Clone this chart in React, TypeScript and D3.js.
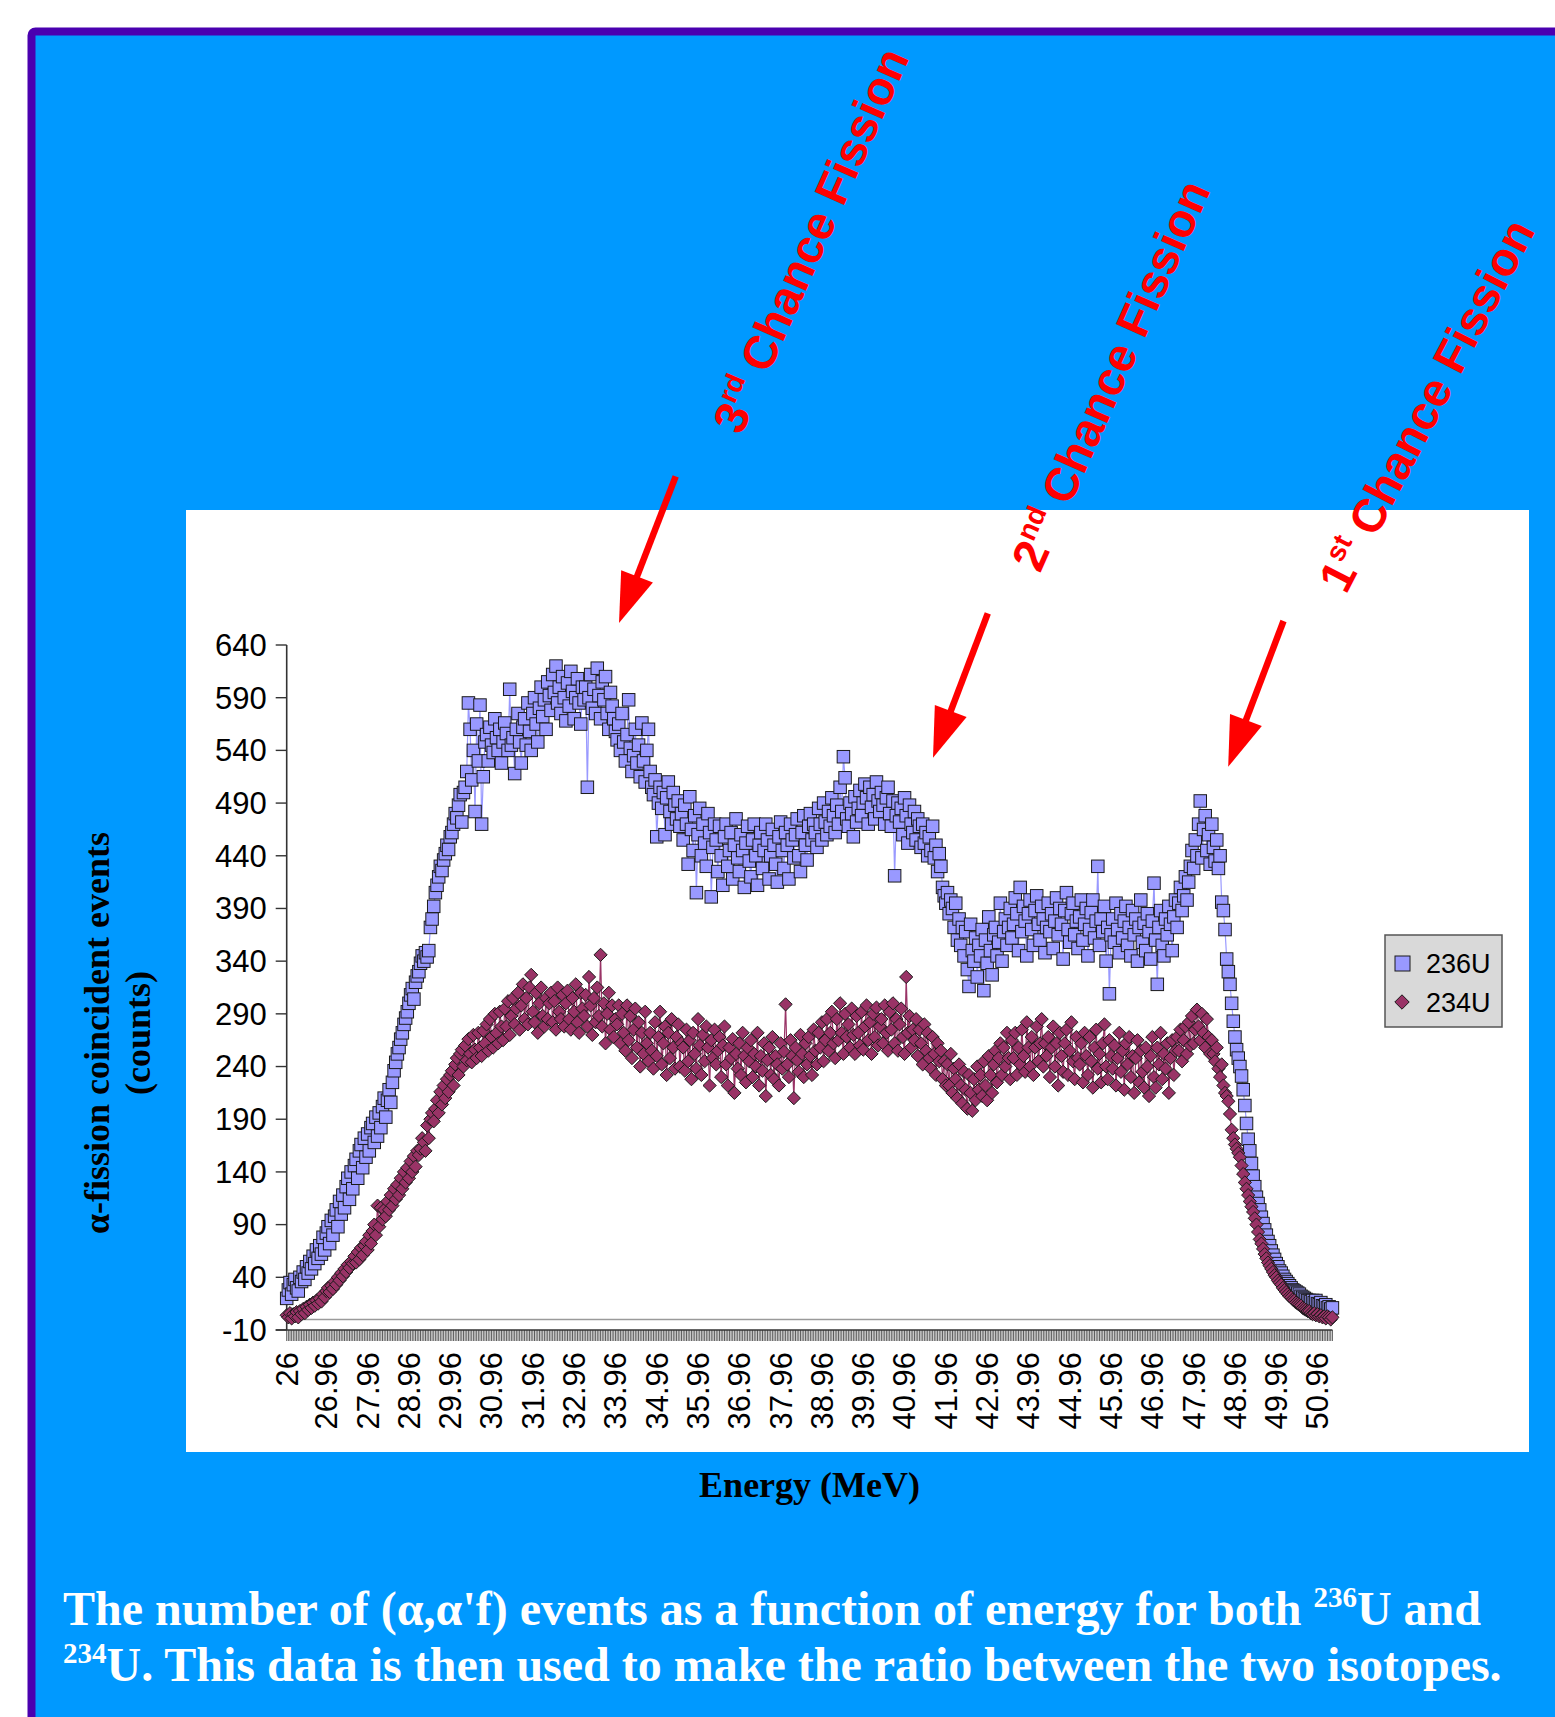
import React from "react";
import * as d3 from "d3";

// energy bins: 26.00 MeV in steps of 0.04 MeV
const ENERGY_START = 26;
const ENERGY_STEP = 0.04;

const X_TICK_LABELS = [
  "26", "26.96", "27.96", "28.96", "29.96", "30.96", "31.96", "32.96", "33.96",
  "34.96", "35.96", "36.96", "37.96", "38.96", "39.96", "40.96", "41.96", "42.96",
  "43.96", "44.96", "45.96", "46.96", "47.96", "48.96", "49.96", "50.96",
];
const Y_TICKS = [-10, 40, 90, 140, 190, 240, 290, 340, 390, 440, 490, 540, 590, 640];
const SERIES_NAMES = ["236U", "234U"];

// counts per bin
const U236 = [
  20, 28, 35, 24, 33, 38, 30, 27, 40, 36, 45, 38, 50, 44, 55, 48, 60, 53, 66, 58,
  70, 62, 78, 66, 82, 88, 72, 94, 80, 98, 104, 88, 112, 100, 118, 106, 126, 134, 114, 140,
  124, 146, 152, 134, 160, 166, 144, 172, 154, 176, 160, 182, 186, 168, 192, 174, 196, 182, 202, 210,
  192, 208, 218, 206, 225, 236, 244, 252, 258, 266, 272, 280, 286, 292, 300, 308, 314, 304, 320, 326,
  330, 338, 345, 340, 348, 344, 350, 372, 380, 392, 405, 412, 420, 430, 426, 436, 442, 450, 446, 458,
  462, 470, 480, 476, 488, 498, 472, 500, 505, 520, 585, 560, 512, 540, 482, 565, 530, 583, 470, 515,
  548, 555, 530, 562, 545, 538, 570, 552, 540, 560, 528, 548, 566, 556, 540, 598, 545, 552, 518, 560,
  575, 548, 528, 562, 570, 545, 585, 558, 540, 575, 590, 565, 548, 580, 600, 572, 588, 560, 605, 592,
  578, 612, 595, 620, 585, 600, 575, 610, 590, 568, 604, 582, 615, 596, 570, 590, 608, 585, 565, 600,
  588, 600, 505, 590, 612, 580, 598, 575, 618, 592, 570, 605, 588, 610, 575, 560, 595, 582, 570, 558,
  550, 565, 540, 575, 548, 530, 555, 588, 542, 520, 535, 560, 528, 545, 515, 566, 530, 510, 540, 560,
  520, 505, 498, 512, 458, 490, 505, 485, 500, 460, 495, 510, 482, 470, 500, 488, 475, 492, 468, 480,
  455, 488, 470, 432, 496, 465, 445, 478, 405, 460, 485, 440, 470, 452, 430, 480, 462, 401, 448, 470,
  455, 425, 468, 440, 412, 458, 470, 430, 445, 462, 418, 450, 475, 438, 425, 460, 445, 410, 452, 468,
  435, 420, 455, 470, 440, 412, 450, 462, 428, 445, 470, 455, 418, 440, 465, 450, 432, 415, 458, 472,
  445, 428, 462, 450, 418, 470, 455, 438, 460, 475, 440, 425, 462, 478, 450, 436, 468, 480, 455, 470,
  462, 448, 485, 470, 455, 490, 472, 460, 482, 468, 495, 478, 462, 488, 470, 505, 482, 534, 514, 475,
  468, 490, 480, 458, 496, 472, 485, 502, 478, 490, 508, 495, 470, 505, 486, 498, 475, 510, 492, 482,
  500, 488, 470, 495, 505, 480, 468, 492, 421, 478, 490, 472, 485, 460, 495, 478, 452, 488, 470, 462,
  482, 455, 475, 468, 448, 470, 452, 462, 440, 458, 445, 468, 438, 450, 425, 442, 430, 410, 402, 395,
  405, 385, 398, 390, 372, 395, 360, 380, 355, 372, 345, 368, 332, 316, 375, 350, 340, 362, 325, 355,
  345, 370, 312, 360, 338, 382, 350, 327, 365, 372, 345, 358, 395, 340, 368, 380, 355, 372, 390, 362,
  375, 400, 385, 350, 410, 368, 392, 378, 345, 385, 398, 370, 355, 388, 402, 375, 360, 392, 380, 348,
  372, 395, 368, 385, 352, 378, 400, 365, 390, 375, 342, 388, 405, 370, 358, 385, 395, 365, 378, 352,
  382, 398, 360, 375, 390, 345, 370, 386, 398, 362, 378, 430, 355, 380, 368, 392, 340, 372, 309, 365,
  380, 358, 395, 370, 348, 385, 362, 378, 392, 355, 372, 345, 388, 365, 380, 340, 372, 398, 358, 376,
  350, 385, 368, 342, 378, 414, 360, 318, 372, 388, 355, 345, 380, 365, 392, 375, 350, 382, 398, 372,
  395, 410, 388, 402, 420, 398, 415, 430, 445, 428, 455, 440, 470, 492, 438, 465, 478, 445, 460, 432,
  470, 448, 435, 455, 428, 440, 396, 388, 370, 342, 330, 318, 300, 283, 268, 256, 248, 240, 231, 218,
  203, 186, 171, 160, 148, 136, 126, 116, 110, 104, 97, 91, 85, 80, 74, 70, 65, 61, 57, 53,
  50, 46, 44, 41, 38, 36, 34, 32, 30, 28, 27, 26, 25, 24, 22, 21, 20, 19, 18, 18,
  17, 18, 16, 18, 15, 14, 16, 13, 12, 14, 11, 12, 10, 11,
];

const U234 = [
  4, 2, 6, 1, 5, 3, 7, 2, 8, 5, 10, 6, 12, 9, 14, 11, 16, 13, 18, 15,
  20, 17, 24, 21, 27, 30, 26, 32, 29, 36, 33, 40, 37, 44, 41, 48, 45, 52, 49, 55,
  53, 60, 54, 64, 57, 68, 61, 70, 74, 66, 80, 72, 84, 90, 80, 108, 88, 106, 95, 104,
  98, 112, 104, 118, 108, 124, 114, 128, 118, 134, 124, 140, 130, 144, 134, 150, 140, 155, 145, 160,
  156, 162, 172, 168, 160, 184, 172, 190, 196, 188, 200, 208, 196, 216, 204, 222, 210, 228, 216, 232,
  236, 222, 242, 248, 232, 252, 256, 240, 260, 246, 266, 252, 244, 270, 256, 248, 272, 258, 250, 274,
  262, 280, 255, 285, 268, 258, 290, 272, 262, 292, 278, 265, 295, 278, 302, 270, 288, 305, 280, 295,
  310, 275, 298, 318, 285, 305, 280, 315, 327, 292, 282, 310, 272, 300, 315, 288, 278, 305, 285, 300,
  310, 282, 302, 275, 315, 292, 285, 308, 278, 300, 312, 285, 275, 305, 292, 318, 282, 272, 310, 295,
  288, 308, 278, 325, 298, 270, 305, 282, 315, 288, 346, 278, 300, 262, 290, 310, 275, 298, 268, 285,
  280, 298, 262, 290, 272, 255, 298, 265, 288, 248, 275, 295, 258, 282, 240, 272, 252, 292, 262, 245,
  272, 255, 238, 282, 250, 268, 292, 242, 262, 278, 232, 272, 248, 285, 258, 238, 268, 280, 240, 262,
  258, 236, 275, 245, 265, 228, 272, 252, 238, 285, 260, 232, 270, 245, 278, 258, 222, 265, 248, 275,
  242, 255, 268, 230, 260, 278, 242, 222, 258, 248, 266, 215, 252, 238, 262, 232, 272, 250, 225, 258,
  245, 265, 230, 252, 240, 272, 222, 250, 236, 262, 212, 246, 258, 232, 268, 228, 250, 242, 222, 262,
  238, 254, 299, 242, 230, 265, 250, 210, 258, 246, 235, 270, 252, 230, 262, 242, 268, 250, 232, 275,
  255, 242, 272, 258, 282, 245, 265, 285, 255, 272, 292, 262, 248, 285, 265, 300, 272, 252, 290, 268,
  280, 258, 295, 270, 252, 288, 272, 260, 292, 256, 278, 298, 265, 282, 252, 290, 268, 296, 260, 278,
  285, 262, 298, 272, 255, 292, 275, 300, 262, 285, 255, 280, 295, 268, 252, 325, 272, 288, 258, 275,
  265, 285, 250, 275, 262, 242, 280, 255, 272, 248, 238, 268, 252, 232, 262, 245, 255, 228, 245, 222,
  242, 222, 252, 215, 238, 228, 210, 242, 222, 205, 235, 218, 200, 232, 215, 198, 228, 208, 240, 218,
  232, 212, 245, 222, 208, 250, 232, 215, 242, 255, 225, 248, 262, 232, 258, 240, 272, 248, 228, 265,
  248, 272, 232, 258, 242, 275, 250, 235, 282, 258, 240, 268, 232, 258, 278, 245, 262, 285, 240, 262,
  250, 268, 230, 258, 278, 240, 262, 222, 272, 250, 235, 262, 275, 232, 255, 282, 245, 228, 268, 248,
  242, 262, 225, 272, 250, 232, 268, 245, 220, 258, 275, 238, 252, 225, 262, 280, 240, 228, 265, 250,
  238, 260, 222, 248, 272, 235, 255, 218, 262, 242, 268, 230, 250, 215, 248, 265, 225, 255, 235, 220,
  258, 240, 212, 250, 268, 230, 220, 258, 242, 272, 228, 252, 238, 262, 215, 248, 265, 232, 255, 268,
  255, 275, 245, 265, 278, 252, 282, 260, 288, 262, 275, 294, 278, 265, 290, 272, 258, 285, 268, 252,
  265, 252, 245, 258, 238, 230, 242, 222, 215, 212, 207, 195, 180, 172, 166, 162, 158, 154, 146, 138,
  130, 124, 118, 112, 107, 102, 96, 90, 83, 76, 72, 67, 62, 58, 54, 51, 48, 45, 42, 40,
  37, 35, 33, 30, 28, 26, 24, 22, 21, 19, 18, 16, 15, 14, 13, 11, 10, 9, 8, 8,
  6, 5, 6, 4, 5, 3, 4, 2, 3, 1, 3, 2, 0, 2,
];

const W = 1555;
const H = 1717;
const SANS = "'Liberation Sans', Arial, Helvetica, sans-serif";
const SERIF = "'Liberation Serif', 'Times New Roman', serif";
const RED = "#FF0000";

function Arrow({ x1, y1, x2, y2 }: { x1: number; y1: number; x2: number; y2: number }) {
  const len = Math.hypot(x2 - x1, y2 - y1);
  const ux = (x2 - x1) / len;
  const uy = (y2 - y1) / len;
  const headLen = 50;
  const half = 17;
  const bx = x2 - ux * headLen;
  const by = y2 - uy * headLen;
  const head = [
    [x2, y2],
    [bx - uy * half, by + ux * half],
    [bx + uy * half, by - ux * half],
  ];
  return (
    <g>
      <line x1={x1} y1={y1} x2={bx + ux * 4} y2={by + uy * 4} stroke={RED} strokeWidth={6.5} />
      <polygon points={head.map((p) => p.join(",")).join(" ")} fill={RED} />
    </g>
  );
}

function Callout({ cx, cy, angle, num, sup }: { cx: number; cy: number; angle: number; num: string; sup: string }) {
  return (
    <text
      transform={`translate(${cx},${cy}) rotate(${angle})`}
      y={17}
      textAnchor="middle"
      fontFamily={SANS}
      fontWeight="bold"
      fontSize={47}
      fill={RED}
    >
      {num}
      <tspan fontSize={28} dy={-19}>{sup}</tspan>
      <tspan dy={19}>{" Chance Fission"}</tspan>
    </text>
  );
}

export default function App() {
  const n = Math.max(U236.length, U234.length);
  const categories = d3.range(n).map((i) => (ENERGY_START + i * ENERGY_STEP).toFixed(2));

  const x = d3.scalePoint<string>().domain(categories).range([286.7, 286.7 + (n - 1) * 1.652]);
  const y = d3.scaleLinear().domain([-10, 640]).range([1330, 645]);
  const [x0, x1] = x.range();

  const linePath = (vals: number[]) =>
    d3.line<number>()
      .x((_, i) => x(categories[i]) as number)
      .y((v) => y(v))(vals) || "";

  const sq = 12.5;
  const dm = 6.6;
  const diamond = (s: number) => `M0,${-s}L${s},0L0,${s}L${-s},0Z`;

  return (
    <svg
      width={W}
      height={H}
      viewBox={`0 0 ${W} ${H}`}
      style={{ position: "absolute", left: 0, top: 0, background: "#fff" }}
    >
      {/* slide panel */}
      <rect x={31.5} y={31.5} width={1700} height={1900} rx={4} fill="#0099FF" stroke="#4A00B0" strokeWidth={8} />

      {/* chart area */}
      <rect x={186} y={510} width={1343} height={942} fill="#fff" />

      {/* zero line */}
      <line x1={x0} x2={x1} y1={y(0)} y2={y(0)} stroke="#9a9a9a" strokeWidth={1.5} />

      {/* y axis */}
      <line x1={x0} x2={x0} y1={y(640)} y2={y(-10)} stroke="#333" strokeWidth={1.6} />
      {Y_TICKS.map((t) => (
        <g key={t}>
          <line x1={x0 - 11} x2={x0} y1={y(t)} y2={y(t)} stroke="#333" strokeWidth={1.4} />
          <text x={x0 - 20} y={y(t)} dy="0.35em" textAnchor="end" fontFamily={SANS} fontSize={31} fill="#000">
            {t}
          </text>
        </g>
      ))}

      {/* category axis */}
      <line x1={x0 - 11} x2={x1} y1={y(-10)} y2={y(-10)} stroke="#333" strokeWidth={1.4} />
      {categories.map((c) => (
        <line key={c} x1={x(c)} x2={x(c)} y1={y(-10)} y2={y(-10) + 11} stroke="#333" strokeWidth={0.8} />
      ))}
      {X_TICK_LABELS.map((lab) => {
        const cx = x(Number(lab).toFixed(2)) as number;
        return (
          <text
            key={lab}
            transform={`translate(${cx},1352) rotate(-90)`}
            dy="0.35em"
            textAnchor="end"
            fontFamily={SANS}
            fontSize={31}
            fill="#000"
          >
            {lab}
          </text>
        );
      })}

      {/* 236U */}
      <path d={linePath(U236)} fill="none" stroke="#9999FF" strokeWidth={1.2} />
      {U236.map((v, i) => (
        <rect
          key={`a${i}`}
          x={(x(categories[i]) as number) - sq / 2}
          y={y(v) - sq / 2}
          width={sq}
          height={sq}
          fill="#9999FF"
          stroke="#1a1a1a"
          strokeWidth={1}
        />
      ))}

      {/* 234U */}
      <path d={linePath(U234)} fill="none" stroke="#993366" strokeWidth={1.2} />
      {U234.map((v, i) => (
        <path
          key={`b${i}`}
          transform={`translate(${x(categories[i])},${y(v)})`}
          d={diamond(dm)}
          fill="#993366"
          stroke="#1a1a1a"
          strokeWidth={1}
        />
      ))}

      {/* legend */}
      <rect x={1385} y={935} width={117} height={92} fill="#D9D9D9" stroke="#555" strokeWidth={1.5} />
      <rect x={1395} y={956} width={15} height={15} fill="#9999FF" stroke="#1a1a1a" strokeWidth={1} />
      <path transform="translate(1402,1002)" d={diamond(7.2)} fill="#993366" stroke="#1a1a1a" strokeWidth={1} />
      {SERIES_NAMES.map((s, i) => (
        <text key={s} x={1426} y={963 + i * 39} dy="0.36em" fontFamily={SANS} fontSize={27} fill="#000">
          {s}
        </text>
      ))}

      {/* axis titles */}
      <text x={(x0 + x1) / 2} y={1497} textAnchor="middle" fontFamily={SERIF} fontWeight="bold" fontSize={36} fill="#000">
        Energy (MeV)
      </text>
      <text transform="translate(109,1033) rotate(-90)" textAnchor="middle" fontFamily={SERIF} fontWeight="bold" fontSize={36} fill="#000">
        α-fission coincident events
      </text>
      <text transform="translate(150,1033) rotate(-90)" textAnchor="middle" fontFamily={SERIF} fontWeight="bold" fontSize={36} fill="#000">
        (counts)
      </text>

      {/* annotations */}
      <Arrow x1={675.7} y1={476.4} x2={619} y2={623} />
      <Arrow x1={987.8} y1={613.3} x2={933} y2={757.8} />
      <Arrow x1={1283.5} y1={621} x2={1228.2} y2={766.8} />
      <Callout cx={810} cy={240} angle={-66} num="3" sup="rd" />
      <Callout cx={1110} cy={375} angle={-66} num="2" sup="nd" />
      <Callout cx={1426} cy={405} angle={-62.5} num="1" sup="st" />

      {/* caption */}
      <text x={63} y={1625} fontFamily={SERIF} fontWeight="bold" fontSize={48} fill="#fff">
        {"The number of (α,α'f) events as a function of energy for both "}
        <tspan fontSize={29} dy={-18}>236</tspan>
        <tspan dy={18}>U and</tspan>
      </text>
      <text x={63} y={1681} fontFamily={SERIF} fontWeight="bold" fontSize={48} fill="#fff">
        <tspan fontSize={29} dy={-18}>234</tspan>
        <tspan dy={18}>U. This data is then used to make the ratio between the two isotopes.</tspan>
      </text>
    </svg>
  );
}
